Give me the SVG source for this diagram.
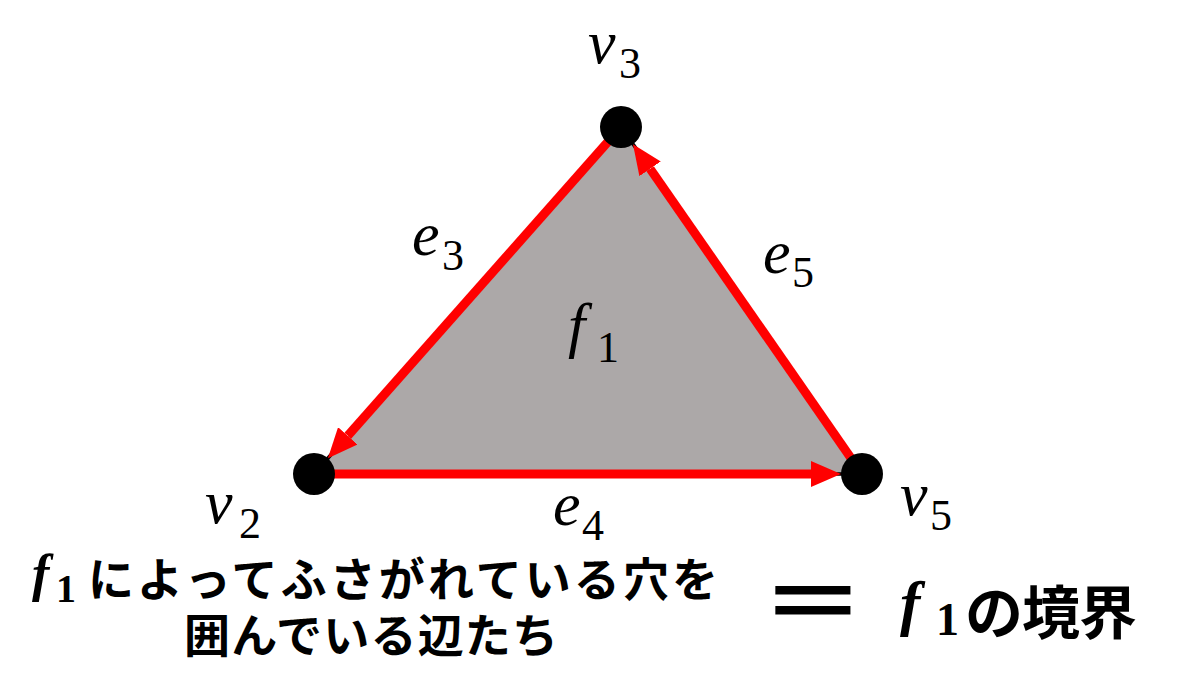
<svg xmlns="http://www.w3.org/2000/svg" width="1200" height="675" viewBox="0 0 1200 675">
<defs>
<style>
.m{font-family:"Liberation Serif","DejaVu Serif",serif;font-style:italic;fill:#000}
.d{font-family:"Liberation Serif","DejaVu Serif",serif;fill:#000}
.jp{font-family:"Noto Sans CJK JP","Noto Sans CJK SC",sans-serif;font-weight:bold;fill:#000}
.edge{stroke:#ff0000;stroke-width:9;fill:none}
.stub{stroke:#000;stroke-width:3.5}
.node{fill:#000}
</style>
<marker id="arr" markerUnits="userSpaceOnUse" markerWidth="30" markerHeight="26" refX="0" refY="13" orient="auto" viewBox="0 0 30 26">
<path d="M0,0 L30,13 L0,26 Z" fill="#ff0000"/>
</marker>
</defs>
<rect width="1200" height="675" fill="#fff"/>
<g id="face-f1">
<polygon points="621,127 314,474 862,474" fill="#aca8a8"/>
<text class="m" x="568" y="346" font-size="62">f</text>
<text class="d" x="597" y="362" font-size="44">1</text>
</g>
<g id="connectors">
<line class="stub" x1="314" y1="474" x2="336" y2="449"/>
<line class="stub" x1="862" y1="474" x2="829" y2="474"/>
<line class="stub" x1="621" y1="127" x2="640" y2="154"/>
<path id="e3" class="edge" d="M621,127 L347.8,435.8" marker-end="url(#arr)"/>
<path id="e4" class="edge" d="M314,474 L811,474" marker-end="url(#arr)"/>
<path id="e5" class="edge" d="M862,474 L650.1,168.8" marker-end="url(#arr)"/>
</g>
<g id="label-e3"><text class="m" x="412" y="255" font-size="62">e</text><text class="d" x="442" y="270" font-size="44">3</text></g>
<g id="label-e4"><text class="m" x="553" y="525" font-size="62">e</text><text class="d" x="582" y="540" font-size="44">4</text></g>
<g id="label-e5"><text class="m" x="763" y="273" font-size="62">e</text><text class="d" x="792" y="287" font-size="44">5</text></g>
<g id="node-v3">
<circle class="node" cx="621" cy="127" r="21"/>
<text class="m" x="588" y="63" font-size="62">v</text><text class="d" x="619" y="78" font-size="44">3</text>
</g>
<g id="node-v2">
<circle class="node" cx="314" cy="474" r="21"/>
<text class="m" x="205" y="523" font-size="62">v</text><text class="d" x="239" y="538" font-size="44">2</text>
</g>
<g id="node-v5">
<circle class="node" cx="862" cy="474" r="21"/>
<text class="m" x="900" y="515" font-size="62">v</text><text class="d" x="930" y="530" font-size="44">5</text>
</g>
<g id="caption-left">
<text class="m" x="32" y="591" font-size="52" font-weight="bold">f</text>
<text class="d" x="56" y="602" font-size="40" font-weight="bold">1</text>
<text class="jp" x="88" y="596" font-size="46" textLength="630" lengthAdjust="spacing">によってふさがれている穴を</text>
<text class="jp" x="184" y="652" font-size="46" textLength="374" lengthAdjust="spacing">囲んでいる辺たち</text>
</g>
<g id="equals">
<text class="jp" transform="translate(760,633) scale(1.26,1)" x="0" y="0" font-size="84">＝</text>
</g>
<g id="caption-right">
<text class="m" x="900" y="624" font-size="61" font-weight="bold">f</text>
<text class="d" x="936" y="635" font-size="46" font-weight="bold">1</text>
<text class="jp" x="965" y="634" font-size="58" textLength="172" lengthAdjust="spacing">の境界</text>
</g>
</svg>
